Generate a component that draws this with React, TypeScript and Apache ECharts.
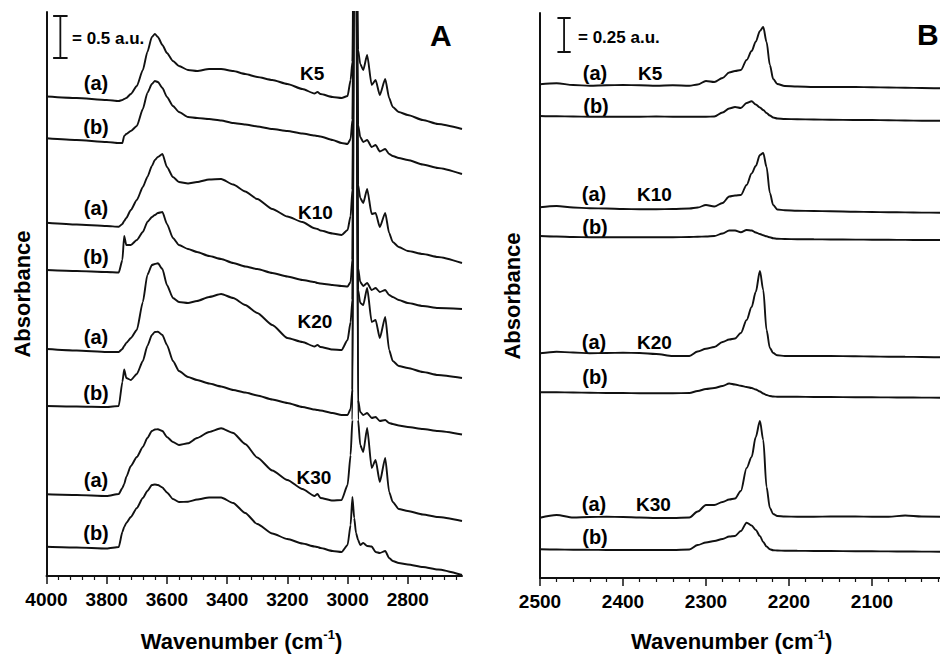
import React, { useEffect, useRef } from 'react';
import * as echarts from 'echarts';

const FONT = '"Liberation Sans", Arial, Helvetica, sans-serif';
const INK = '#111';

// ---------- Panel A: O-H / C-H region (absorbance, stacked, 84 units = 1 a.u.) ----------
const wnA = [4000, 3900, 3800, 3760, 3748, 3742, 3735, 3720, 3700, 3680, 3665, 3650, 3640, 3630, 3615, 3600, 3580, 3560, 3530, 3500, 3460, 3420, 3380, 3340, 3300, 3250, 3200, 3150, 3110, 3100, 3090, 3050, 3020, 3000, 2990, 2984, 2978, 2972, 2965, 2958, 2948, 2935, 2920, 2907, 2893, 2875, 2862, 2850, 2830, 2800, 2750, 2700, 2620];

const aK5a = [479.5, 478, 476, 475, 476, 477, 478, 482, 490, 506, 524, 539, 542, 539, 531, 523, 515, 510, 506, 505, 507, 507, 505, 502, 499, 496, 492, 487, 482.5, 484, 482, 479, 478, 480, 496, 514, 720, 720, 526, 512, 506, 521, 491, 496, 481, 497, 478, 469, 464, 461, 456, 452, 447];
const aK5b = [437.7, 436, 434, 433, 433, 440, 442, 445, 450, 467, 483, 492, 495, 494, 488, 479, 470, 464, 459, 458, 457, 455.5, 453, 451.5, 449.5, 447, 445, 442.5, 440.5, 440, 439.5, 436, 433, 432, 437, 456, 720, 720, 451, 439, 434, 436, 429, 431, 424.5, 427, 422, 420, 418, 416, 411.5, 408, 402];
const aK10a = [353.3, 351.5, 350, 349.3, 352, 355, 358, 366, 376, 389, 399, 410, 416, 419, 422, 409, 399, 394, 392.5, 394, 396.5, 397, 391.5, 384.5, 377, 367, 359.5, 354, 347.7, 347, 345.5, 342.5, 341, 346, 360, 386, 720, 720, 391, 378, 373, 387, 362, 363, 349, 363, 343, 334, 329, 325, 322, 319, 313];
const aK10b = [306, 305, 304, 303.5, 316, 340, 331, 331, 336, 344, 354, 359, 361, 363, 364, 352, 338, 331, 327, 324, 320, 317, 313, 309.5, 307, 303, 299.5, 296, 294, 293, 292.5, 291, 290, 289.5, 294, 316, 720, 720, 308, 294, 290, 293, 286, 288, 284, 286, 281, 279, 276, 273, 270, 268, 267];
const aK20a = [227, 225.5, 224, 224, 227, 230, 233, 238, 246, 274, 301, 311, 312, 312.7, 307, 291, 278, 274, 273, 275, 279, 282, 278, 271, 263, 251, 238, 234, 229.5, 231, 229, 226.5, 226, 236, 254, 276, 720, 720, 286, 273, 271, 288, 254, 256, 238, 259, 226, 215, 210, 208, 204, 201, 198];
const aK20b = [170, 169.5, 169, 170, 194, 206.5, 198, 196, 202, 215, 230, 241, 244, 244.3, 241, 231, 215, 205, 199, 196, 192.5, 189.5, 186, 183.5, 180.5, 176.5, 173, 169, 166.5, 166, 165.5, 163, 161, 161, 167, 186, 720, 720, 176, 164, 161, 163, 158, 159, 155, 156, 153, 152, 150.5, 149, 147, 145, 141.5];
const aK30a = [81.7, 81, 80, 82, 88, 92, 99, 110, 119, 129, 138, 145, 146.5, 146.7, 145, 139, 134, 131, 132.7, 138, 144, 147.7, 143, 132, 118.5, 105.5, 96, 87, 80, 82, 78, 75.5, 76, 91, 121, 156, 720, 720, 156, 131, 124, 148, 108, 116, 94, 118, 84, 74, 67, 65, 61.5, 59, 55];
const aK30b = [29.3, 28.5, 27.5, 29, 44, 49, 53, 59, 68, 78, 85, 91, 91.5, 91, 88.5, 83.5, 77, 74, 74.3, 76.5, 78.5, 78.5, 73, 63, 52, 42.5, 37, 32.5, 29.5, 29, 28, 25, 24, 31, 51, 79, 58, 43, 36, 31, 33, 30, 29.5, 24, 23, 25, 18, 15, 13, 11.5, 9, 6.5, 1];

const ticksA = [4000, 3800, 3600, 3400, 3200, 3000, 2800];
const minorA = [3960, 3920, 3880, 3840, 3760, 3720, 3680, 3640, 3560, 3520, 3480, 3440, 3360, 3320, 3280, 3240, 3160, 3120, 3080, 3040, 2960, 2920, 2880, 2840, 2760, 2720, 2680, 2640];

// ---------- Panel B: C-N / C-D region (136 units = 1 a.u.) ----------
const wnB = [2500, 2480, 2460, 2440, 2420, 2400, 2380, 2360, 2340, 2320, 2310, 2300, 2290, 2280, 2272, 2265, 2258, 2251, 2245, 2240, 2235, 2231, 2227, 2223, 2219, 2214, 2205, 2190, 2170, 2150, 2120, 2100, 2080, 2060, 2040, 2018];

const bK5a = [493.7, 494.7, 493, 492.3, 492.7, 493, 492.7, 492.3, 492.7, 492.3, 493.5, 497, 496, 500, 505.5, 507, 508, 518, 527, 536.3, 547, 551, 536, 513, 499, 494, 492, 491.5, 491, 491, 491, 490.7, 490.5, 490.3, 490, 489.7];
const bK5b = [462, 461.7, 461.5, 461.3, 461.3, 461.3, 461.3, 461.5, 461.3, 461.3, 461.3, 461.3, 461.5, 465.5, 469.5, 471, 470, 475, 476.7, 473.5, 470.5, 468, 465, 462.5, 460.5, 459.5, 459, 458.7, 458.5, 458.3, 458, 458, 457.7, 457.5, 457.3, 457.3];
const bK10a = [370.7, 372, 370.5, 369.7, 369.5, 369, 368.7, 368.7, 369, 369.5, 370.5, 373, 371.5, 375, 381.5, 382.5, 383, 393, 404.5, 412, 423, 425, 411, 385, 373, 368.5, 367.8, 367.3, 367, 366.7, 366.3, 366, 365.8, 365.6, 365.4, 365.3];
const bK10b = [342, 341.5, 341, 340.8, 340.7, 340.7, 340.7, 340.7, 340.8, 341, 341.3, 341.5, 342, 344.5, 347.5, 347.5, 345.7, 348, 347.5, 345.5, 344, 342.7, 341.7, 340.7, 339.8, 339.3, 339, 338.8, 338.7, 338.5, 338.4, 338.3, 338.2, 338.1, 338, 338];
const bK20a = [224.7, 226.3, 225.5, 224.7, 225, 225.3, 225, 224, 222, 222, 226.5, 229.3, 231, 236, 238.5, 239.5, 245, 258, 271, 286, 307, 288, 248, 230, 225, 222.7, 222, 222, 222, 222, 221.7, 221.5, 221.3, 221.2, 221, 220.7];
const bK20b = [185.7, 185.7, 185.5, 185.3, 185, 185, 184.7, 184.7, 184.7, 185, 187, 189, 190, 192, 194.5, 193.5, 192.2, 191, 190, 188.5, 186.5, 184.5, 183, 182, 181.5, 181.3, 181.2, 181.2, 181, 181, 180.8, 180.7, 180.6, 180.5, 180.4, 180.3];
const bK30a = [60.3, 63, 60.5, 61, 61.3, 61, 60.5, 60, 60, 60.5, 66.5, 73, 73, 76, 78.5, 79.5, 87, 110, 121, 141, 157, 138, 91, 70, 64, 62, 61.5, 61.3, 61.3, 61.5, 61.5, 61.3, 61.3, 62.5, 61.5, 61.3];
const bK30b = [28.7, 28.5, 28.3, 28.2, 28, 28, 28, 28, 28, 28.5, 33, 35.5, 37, 39, 41.5, 42, 47, 55.3, 52.5, 48, 42, 36, 31.5, 28.7, 27.8, 27.5, 27.3, 27.2, 27, 27, 26.8, 26.7, 26.6, 26.5, 26.4, 26.3];

const ticksB = [2500, 2400, 2300, 2200, 2100];
const minorB = [2480, 2460, 2440, 2420, 2380, 2360, 2340, 2320, 2280, 2260, 2240, 2220, 2180, 2160, 2140, 2120, 2080, 2060, 2040, 2020];

// scale bars: [x, lower, upper, capLeft, capRight] in data units
const scaleA = { x: 3954, lo: 518, hi: 560, c1: 3978, c2: 3930 };
const scaleB = { x: 2471, lo: 526, hi: 560, c1: 2479, c2: 2463 };

const tracesA = [aK5a, aK5b, aK10a, aK10b, aK20a, aK20b, aK30a, aK30b];
const tracesB = [bK5a, bK5b, bK10a, bK10b, bK20a, bK20b, bK30a, bK30b];

const labelsA = [
  { t: '(a)', x: 96, y: 83 }, { t: '(b)', x: 96, y: 127 },
  { t: '(a)', x: 96, y: 208 }, { t: '(b)', x: 96, y: 257 },
  { t: '(a)', x: 96, y: 337 }, { t: '(b)', x: 96, y: 393 },
  { t: '(a)', x: 96, y: 480 }, { t: '(b)', x: 96, y: 533 },
];
const kLabelsA = [
  { t: 'K5', x: 300, y: 73 }, { t: 'K10', x: 298, y: 212 },
  { t: 'K20', x: 297.5, y: 321 }, { t: 'K30', x: 296.5, y: 477 },
];
const labelsB = [
  { t: '(a)', x: 595, y: 73 }, { t: '(b)', x: 596, y: 106 },
  { t: '(a)', x: 594, y: 194 }, { t: '(b)', x: 595, y: 227 },
  { t: '(a)', x: 594, y: 342 }, { t: '(b)', x: 595, y: 377 },
  { t: '(a)', x: 594, y: 504 }, { t: '(b)', x: 595, y: 537 },
];
const kLabelsB = [
  { t: 'K5', x: 638, y: 73 }, { t: 'K10', x: 637, y: 194 },
  { t: 'K20', x: 637, y: 342 }, { t: 'K30', x: 636, y: 504 },
];

function lineSeries(xIdx: number, yIdx: number, xs: number[], ys: number[], smooth: number) {
  return {
    type: 'line',
    xAxisIndex: xIdx,
    yAxisIndex: yIdx,
    data: xs.map((w, i) => [w, ys[i]]),
    symbol: 'none',
    showSymbol: false,
    smooth,
    smoothMonotone: 'x',
    clip: true,
    silent: true,
    lineStyle: { color: INK, width: 1.9 },
    z: 3,
  };
}

function scaleSeries(xIdx: number, yIdx: number, s: typeof scaleA) {
  return {
    type: 'line',
    xAxisIndex: xIdx,
    yAxisIndex: yIdx,
    data: [[s.c1, s.hi], [s.c2, s.hi], [s.x, s.hi], [s.x, s.lo], [s.c2, s.lo], [s.c1, s.lo]],
    symbol: 'none',
    smooth: false,
    clip: false,
    silent: true,
    lineStyle: { color: INK, width: 1.8 },
  };
}

function txt(t: string, x: number, y: number, size: number, align: string = 'center') {
  return {
    type: 'text',
    x,
    y,
    silent: true,
    style: {
      text: t,
      fill: '#000',
      font: `bold ${size}px ${FONT}`,
      align,
      verticalAlign: 'middle',
    },
  };
}

function axisTitle(x: number) {
  return {
    type: 'text',
    x,
    y: 641,
    silent: true,
    style: {
      text: '{t|Wavenumber (cm}{s|-1}{t|)}',
      align: 'center',
      verticalAlign: 'middle',
      rich: {
        t: { fontSize: 22, fontWeight: 'bold', fontFamily: FONT, fill: '#000', lineHeight: 26, verticalAlign: 'middle' },
        s: { fontSize: 13, fontWeight: 'bold', fontFamily: FONT, fill: '#000', lineHeight: 14, verticalAlign: 'top' },
      },
    },
  };
}

function xAxes(grid: number, min: number, max: number, majors: number[], minors: number[]) {
  return [
    {
      type: 'value', gridIndex: grid, min, max, inverse: true, position: 'bottom',
      axisLine: { show: true, onZero: false, lineStyle: { color: INK, width: 2 } },
      axisTick: { show: true, customValues: majors, length: 8, lineStyle: { color: INK, width: 1.5 } },
      minorTick: { show: false },
      axisLabel: {
        show: true, customValues: majors, fontSize: 19, fontWeight: 'bold', fontFamily: FONT, color: '#000', margin: 14,
        formatter: (v: number) => String(v),
      },
      splitLine: { show: false },
    },
    {
      type: 'value', gridIndex: grid, min, max, inverse: true, position: 'bottom', offset: 0,
      axisLine: { show: false, onZero: false },
      axisTick: { show: true, customValues: minors, length: 4, lineStyle: { color: INK, width: 1.2 } },
      axisLabel: { show: false },
      splitLine: { show: false },
    },
  ];
}

function yAxis(grid: number, max: number) {
  return {
    type: 'value', gridIndex: grid, min: 0, max,
    axisLine: { show: true, onZero: false, lineStyle: { color: INK, width: 2 } },
    axisTick: { show: false },
    axisLabel: { show: false },
    splitLine: { show: false },
  };
}

export default function App() {
  const ref = useRef<HTMLDivElement>(null);
  useEffect(() => {
    if (!ref.current) return;
    const chart = echarts.init(ref.current, null, { renderer: 'svg' });
    const option: any = {
      animation: false,
      backgroundColor: '#fff',
      grid: [
        { left: 46.5, top: 12, width: 415.5, height: 564, containLabel: false, outerBoundsMode: 'none' },
        { left: 540, top: 13, width: 400, height: 565, containLabel: false, outerBoundsMode: 'none' },
      ],
      xAxis: [
        ...xAxes(0, 2620, 4000, ticksA, minorA),
        ...xAxes(1, 2018, 2500, ticksB, minorB),
      ],
      yAxis: [yAxis(0, 564), yAxis(1, 565)],
      series: [
        ...tracesA.map((ys) => lineSeries(0, 0, wnA, ys, 0.2)),
        ...tracesB.map((ys) => lineSeries(2, 1, wnB, ys, 0.3)),
        scaleSeries(0, 0, scaleA),
        scaleSeries(2, 1, scaleB),
      ],
      graphic: [
        txt('= 0.5 a.u.', 72, 38, 17, 'left'),
        txt('= 0.25 a.u.', 578, 37, 17, 'left'),
        txt('A', 430, 35, 30, 'left'),
        txt('B', 917, 34, 30, 'left'),
        ...labelsA.map((l) => txt(l.t, l.x, l.y, 20)),
        ...kLabelsA.map((l) => txt(l.t, l.x, l.y, 19, 'left')),
        ...labelsB.map((l) => txt(l.t, l.x, l.y, 20)),
        ...kLabelsB.map((l) => txt(l.t, l.x, l.y, 19, 'left')),
        { ...txt('Absorbance', 22, 294, 22), rotation: Math.PI / 2 },
        { ...txt('Absorbance', 512, 296, 22), rotation: Math.PI / 2 },
        axisTitle(241.5),
        axisTitle(731.7),
      ],
    };
    chart.setOption(option);
    return () => chart.dispose();
  }, []);
  return (
    <div
      ref={ref}
      style={{ position: 'fixed', left: 0, top: 0, width: 940, height: 655, background: '#fff' }}
    />
  );
}
